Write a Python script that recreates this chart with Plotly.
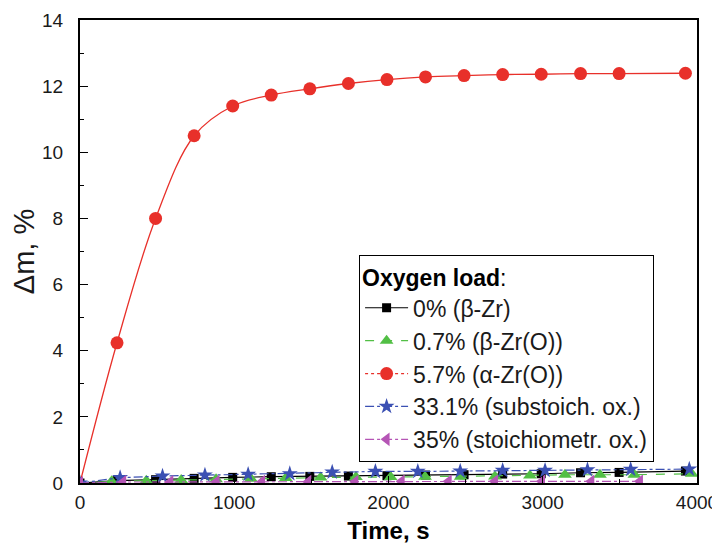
import plotly.graph_objects as go

# ---- data ----
red_t = [0, 240, 490, 740, 990, 1240, 1490, 1740, 1990, 2240, 2490, 2740, 2990, 3245, 3495, 3925]
red_v = [0, 4.24, 8.0, 10.5, 11.4, 11.73, 11.92, 12.08, 12.2, 12.28, 12.32, 12.35, 12.36, 12.38, 12.38, 12.39]

black_t = [0, 240, 490, 740, 990, 1240, 1490, 1740, 1990, 2240, 2490, 2740, 2990, 3245, 3495, 3925]
black_v = [0, 0.07, 0.10, 0.14, 0.17, 0.19, 0.20, 0.21, 0.22, 0.24, 0.25, 0.27, 0.28, 0.31, 0.32, 0.36]

green_t = [0, 205, 430, 656, 882, 1108, 1334, 1560, 1789, 2014, 2237, 2468, 2690, 2917, 3144, 3371, 3594, 3966]
green_v = [0, 0.05, 0.07, 0.09, 0.11, 0.13, 0.15, 0.17, 0.18, 0.18, 0.19, 0.19, 0.20, 0.23, 0.25, 0.25, 0.25, 0.28]

blue_t = [0, 260, 535, 810, 1090, 1360, 1635, 1915, 2190, 2465, 2740, 3015, 3290, 3570, 3950]
blue_v = [0, 0.16, 0.21, 0.24, 0.26, 0.28, 0.33, 0.35, 0.35, 0.36, 0.38, 0.38, 0.40, 0.41, 0.42]

mag_t = [0, 280, 585, 885, 1180, 1480, 1785, 2085, 2390, 2690, 2995, 3315, 3630]
mag_v = [0, 0.03, 0.03, 0.04, 0.04, 0.04, 0.04, 0.05, 0.05, 0.05, 0.05, 0.05, 0.05]

names = ["0% (β-Zr)", "0.7% (β-Zr(O))", "5.7% (α-Zr(O))",
         "33.1% (substoich. ox.)", "35% (stoichiometr. ox.)"]

RED = "#e8302a"
GREEN = "#52bf45"
BLUE = "#3b50b3"
MAG = "#b555b5"

fig = go.Figure()

# smooth fitted red curve (no legend)
fig.add_trace(go.Scatter(x=red_t, y=red_v, mode="lines", line=dict(color=RED, width=1.3, shape="spline"),
                         showlegend=False, hoverinfo="skip"))
# red markers (no legend)
fig.add_trace(go.Scatter(x=red_t[1:], y=red_v[1:], mode="markers", showlegend=False,
                         marker=dict(symbol="circle", size=13, color=RED)))

fig.add_trace(go.Scatter(x=black_t, y=black_v, mode="lines+markers", name=names[0],
                         line=dict(color="black", width=1.2),
                         marker=dict(symbol="square", size=9, color="black")))
fig.add_trace(go.Scatter(x=green_t, y=green_v, mode="lines+markers", name=names[1],
                         line=dict(color=GREEN, width=1.2, dash="dash"),
                         marker=dict(symbol="triangle-up", size=12, color=GREEN)))
# legend-only entry for the red series (dotted line + circle)
fig.add_trace(go.Scatter(x=[None], y=[None], mode="lines+markers", name=names[2],
                         line=dict(color=RED, width=1.2, dash="dot"),
                         marker=dict(symbol="circle", size=13, color=RED)))
fig.add_trace(go.Scatter(x=blue_t, y=blue_v, mode="lines+markers", name=names[3],
                         line=dict(color=BLUE, width=1.2, dash="dashdot"),
                         marker=dict(symbol="star", size=12, color=BLUE)))
fig.add_trace(go.Scatter(x=mag_t, y=mag_v, mode="lines+markers", name=names[4],
                         line=dict(color=MAG, width=1.2, dash="dashdot"),
                         marker=dict(symbol="triangle-left", size=12, color=MAG)))

FONT = "Liberation Sans, Arial, sans-serif"

# page body has an 8px margin, so the figure is 712x536 and shifted accordingly
fig.update_layout(
    width=712, height=536,
    margin=dict(l=72, r=23, t=12, b=61),
    paper_bgcolor="white", plot_bgcolor="white",
    font=dict(family=FONT, size=19, color="#1a1a1a"),
    legend=dict(
        title=dict(text="<b>Oxygen load</b>:", font=dict(size=23, color="black")),
        x=0.452, y=0.492, xanchor="left", yanchor="top",
        bgcolor="white", bordercolor="black", borderwidth=1.2,
        font=dict(size=23, color="#1a1a1a"),
        tracegroupgap=0, itemwidth=43,
    ),
    showlegend=True,
)

fig.update_xaxes(
    range=[0, 4000], dtick=1000, tick0=0, automargin=False,
    showline=True, linecolor="black", linewidth=2, mirror=True,
    ticks="inside", ticklen=7, tickcolor="black", ticklabelstandoff=1,
    minor=dict(ticks="inside", ticklen=4, dtick=500, tickcolor="black"),
    showgrid=False, zeroline=False,
    title=dict(text="<b>Time, s</b>", font=dict(size=24, color="black"), standoff=15),
    tickfont=dict(size=19),
)
fig.update_yaxes(
    range=[0, 14], dtick=2, tick0=0, automargin=False,
    showline=True, linecolor="black", linewidth=2, mirror=True,
    ticks="inside", ticklen=8, tickcolor="black", ticklabelstandoff=11,
    minor=dict(ticks="inside", ticklen=4, dtick=1, tickcolor="black"),
    showgrid=False, zeroline=False,
    title=dict(text="Δm, %", font=dict(size=29, color="#1a1a1a"), standoff=0),
    tickfont=dict(size=19),
)

fig.write_html("out.html")
